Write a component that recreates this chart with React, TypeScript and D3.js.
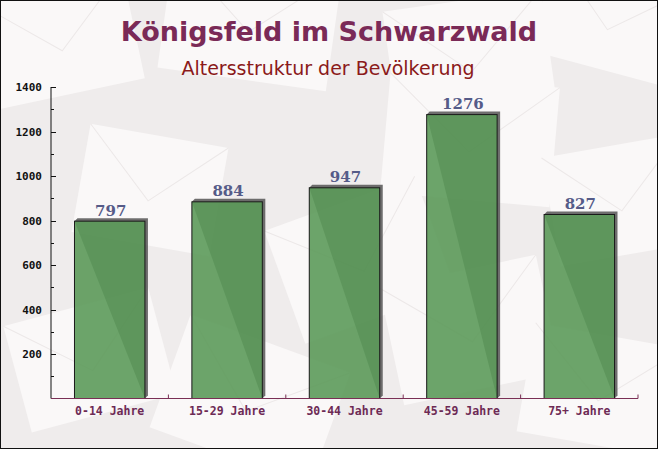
import React from "react";
import * as d3 from "d3";

const categories = ["0-14 Jahre", "15-29 Jahre", "30-44 Jahre", "45-59 Jahre", "75+ Jahre"];
const values = [797, 884, 947, 1276, 827];
const yTicks = [200, 400, 600, 800, 1000, 1200, 1400];
const titleText = "Königsfeld im Schwarzwald";
const subtitleText = "Altersstruktur der Bevölkerung";

// decorative background envelopes: [cx, cy, w, h, rotation]
const envelopes = [
  [60, 40, 150, 110, -12],
  [250, 20, 170, 120, 8],
  [470, 60, 160, 120, -8],
  [610, 20, 140, 100, 15],
  [150, 190, 140, 110, 10],
  [470, 140, 170, 120, 5],
  [620, 200, 140, 110, -10],
  [360, 260, 160, 120, -20],
  [90, 360, 150, 110, -15],
  [250, 400, 170, 120, 20],
  [470, 330, 160, 120, -12],
  [600, 390, 150, 110, 10],
];

export default function App() {
  const W = 658, H = 449;
  const left = 51, right = 638, top = 87, bottom = 398.5;
  const x = d3.scaleBand().domain(categories).range([left, right]).paddingInner(0.4).paddingOuter(0.2);
  const step = x.step();
  const y = d3.scaleLinear().domain([0, 1400]).range([bottom, top]);
  const minor = d3.range(100, 1400, 200);
  const off = 3;

  return (
    <svg width={W} height={H} style={{ display: "block" }}>
      <style>{`body{margin:0}`}</style>
      <rect x={0} y={0} width={W} height={H} fill="#efecec" />
      {envelopes.map((e, i) => (
        <g key={i} transform={`translate(${e[0]},${e[1]}) rotate(${e[4]})`}>
          <rect x={-e[2] / 2} y={-e[3] / 2} width={e[2]} height={e[3]} fill="#faf8f8" />
          <path d={`M${-e[2] / 2},${-e[3] / 2} L0,${e[3] * 0.1} L${e[2] / 2},${-e[3] / 2}`} fill="none" stroke="#ece8e8" strokeWidth={1} />
        </g>
      ))}
      <rect x={0.5} y={0.5} width={W - 1} height={H - 1} fill="none" stroke="#111" strokeWidth={1} />

      <text x={329} y={41} textAnchor="middle" fontFamily="DejaVu Sans" fontWeight="bold" fontSize={27} fill="#7a2a57">{titleText}</text>
      <text x={328} y={75} textAnchor="middle" fontFamily="DejaVu Sans" fontSize={19} fill="#8b1a1a">{subtitleText}</text>

      {/* bars */}
      {categories.map((c, i) => {
        const bx = x(c)!;
        const bw = x.bandwidth();
        const by = y(values[i]);
        return (
          <g key={c}>
            <path d={`M${bx},${by} L${bx + off},${by - off} L${bx + bw + off},${by - off} L${bx + bw + off},${bottom - off} L${bx + bw},${bottom} Z`} fill="#555" opacity={0.85} />
            <rect x={bx} y={by} width={bw} height={bottom - by} fill="#5c9a5a" fillOpacity={0.9} stroke="#1a1a1a" strokeWidth={1} />
            <text x={bx + bw / 2 + 1} y={by - 5.5} textAnchor="middle" fontFamily="DejaVu Serif" fontWeight="bold" fontSize={15} fill="#555b88">{values[i]}</text>
          </g>
        );
      })}

      {/* y axis */}
      <line x1={left} x2={left} y1={top} y2={bottom} stroke="#111" strokeWidth={1} />
      {yTicks.map((t) => (
        <g key={t}>
          <line x1={left} x2={left + 5} y1={Math.round(y(t)) + 0.5} y2={Math.round(y(t)) + 0.5} stroke="#111" />
          <text x={42} y={y(t) + 4} textAnchor="end" fontFamily="DejaVu Sans Mono" fontWeight="bold" fontSize={11} fill="#111">{t}</text>
        </g>
      ))}
      {minor.map((t) => (
        <line key={t} x1={left} x2={left + 3} y1={Math.round(y(t)) + 0.5} y2={Math.round(y(t)) + 0.5} stroke="#111" />
      ))}

      {/* x axis */}
      <line x1={left} x2={right} y1={bottom} y2={bottom} stroke="#7a2f55" strokeWidth={1} />
      {d3.range(1, categories.length + 1).map((k) => (
        <line key={k} x1={left + k * step} x2={left + k * step} y1={bottom - 4} y2={bottom} stroke="#7a2f55" />
      ))}
      {categories.map((c) => (
        <text key={c} x={x(c)! + x.bandwidth() / 2} y={415} textAnchor="middle" fontFamily="DejaVu Sans Mono" fontWeight="bold" fontSize={11.5} fill="#6d2a55">{c}</text>
      ))}
    </svg>
  );
}
